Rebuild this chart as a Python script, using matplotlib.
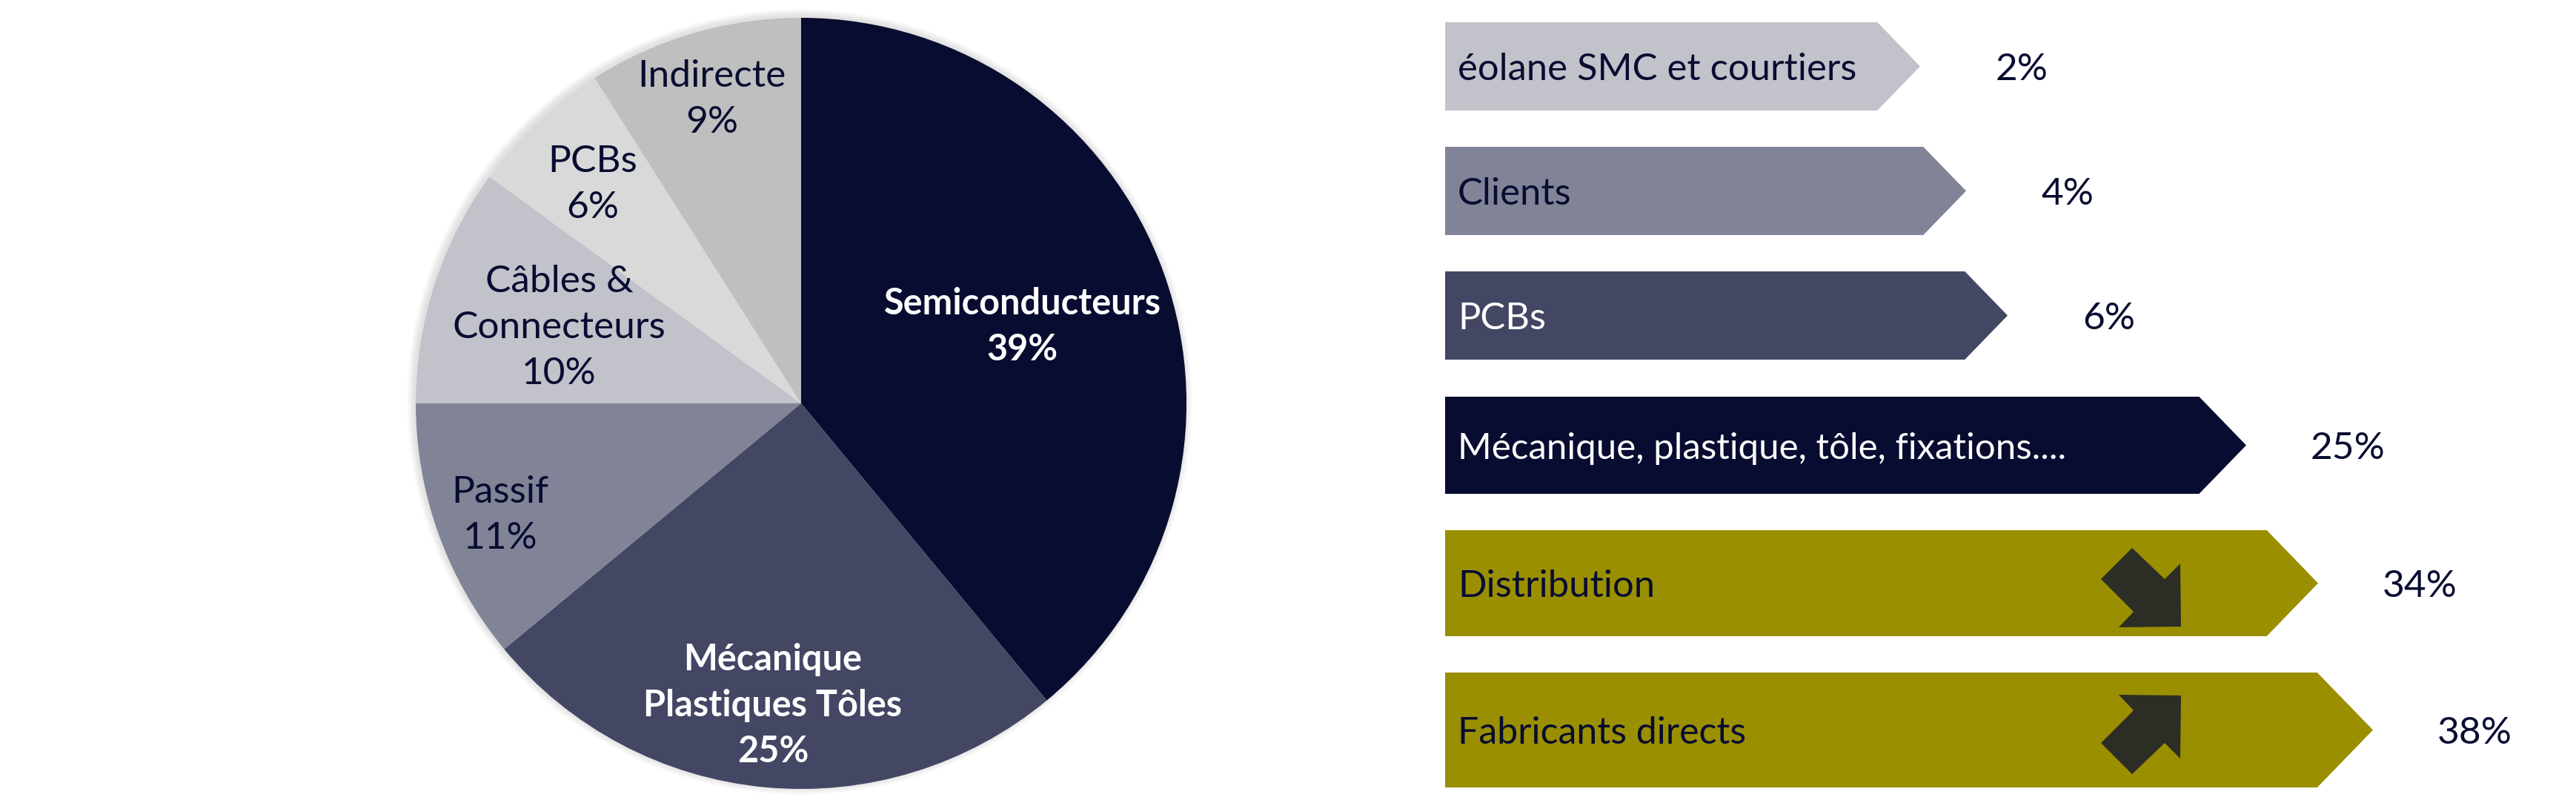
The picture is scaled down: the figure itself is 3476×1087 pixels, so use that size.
import numpy as np
import matplotlib
matplotlib.use("Agg")
import matplotlib.pyplot as plt
from matplotlib.patches import Polygon, Circle

# ---------------- data ----------------
pie_labels = ["Semiconducteurs", "Mécanique\nPlastiques Tôles", "Passif",
              "Câbles &\nConnecteurs", "PCBs", "Indirecte"]
pie_values = [39, 25, 11, 10, 6, 9]

arrow_labels = ["éolane SMC et courtiers", "Clients", "PCBs",
                "Mécanique, plastique, tôle, fixations....",
                "Distribution", "Fabricants directs"]
arrow_values = [2, 4, 6, 25, 34, 38]
# visual length of each arrow as drawn in the picture
arrow_extent = [641, 703, 759, 1081, 1178, 1252]
arrow_trend = [None, None, None, None, "down", "up"]

# ---------------- style ----------------
W, H = 3476, 1087
DPI = 100
plt.rcParams["font.family"] = ["Lato", "DejaVu Sans"]
NAVY = "#080C30"
pie_colors = ["#080C30", "#434764", "#818497", "#C2C2CB", "#D9D9D9", "#BFBFBF"]
pie_text_colors = ["white", "white", NAVY, NAVY, NAVY, NAVY]
pie_text_weight = ["bold", "bold", "normal", "normal", "normal", "normal"]
pie_text_size = [35, 35, 37, 37, 37, 37]
pie_label_frac = [0.61, 0.78, 0.83, 0.66, 0.79, 0.83]
arrow_colors = ["#C2C2CB", "#818497", "#434764", "#080C30", "#9A8F00", "#9A8F00"]
arrow_text_colors = [NAVY, NAVY, "white", "white", NAVY, NAVY]
arrow_text_size = [36.5, 36.5, 36.5, 35.5, 36.5, 36]
row_center = [89.5, 257.5, 425.5, 600.5, 786.5, 984.5]   # from top, px
row_height = [119, 119, 119, 131, 143, 155]
ICON = "#2C2D24"
FS = 37
FS_PX = FS * DPI / 72.0

fig = plt.figure(figsize=(W / DPI, H / DPI), dpi=DPI)
fig.patch.set_facecolor("white")
ax = fig.add_axes([0, 0, 1, 1])

# ---------------- pie ----------------
cx, cy, R = 1081, H - 544, 520
# soft shadow
for k in range(10, 0, -1):
    ax.add_patch(Circle((cx - 2, cy + 2), R + k, color="#808080",
                        alpha=0.018, lw=0, zorder=0))
wedges, _ = ax.pie(pie_values, colors=pie_colors, startangle=90,
                   counterclock=False, center=(cx, cy), radius=R,
                   wedgeprops=dict(linewidth=0))
for w in wedges:
    w.set_zorder(1)

line_pitch = 62
for w, lab, val, frac, col, wt, fs in zip(wedges, pie_labels, pie_values,
                                          pie_label_frac, pie_text_colors,
                                          pie_text_weight, pie_text_size):
    mid = np.deg2rad((w.theta1 + w.theta2) / 2.0)
    ax_x = cx + frac * R * np.cos(mid)
    ax_y = cy + frac * R * np.sin(mid)
    lines = lab.split("\n") + [f"{val}%"]
    n = len(lines)
    for i, t in enumerate(lines):
        yy = ax_y + ((n - 1) / 2.0 - i) * line_pitch
        ax.text(ax_x, yy, t, ha="center", va="center_baseline",
                fontsize=fs, color=col, fontweight=wt, zorder=3)

# ---------------- arrows ----------------
x0 = 1950
icon_shape = np.array([(-12, -53.5), (32, -11.5), (53, -32.5), (54, 52.5),
                       (-30, 53.5), (-10, 32.5), (-54, -11.5)])
for lab, val, ext, col, tcol, tfs, rc, h, trend in zip(
        arrow_labels, arrow_values, arrow_extent, arrow_colors,
        arrow_text_colors, arrow_text_size, row_center, row_height,
        arrow_trend):
    yc = H - rc
    tip = x0 + ext
    tl = 0.485 * h
    pts = [(x0, yc - h / 2), (tip - tl, yc - h / 2), (tip, yc),
           (tip - tl, yc + h / 2), (x0, yc + h / 2)]
    ax.add_patch(Polygon(pts, closed=True, facecolor=col, edgecolor="none",
                         zorder=1))
    ax.text(x0 + 17, yc - 0.36 * FS_PX, lab, ha="left", va="baseline",
            fontsize=tfs, color=tcol, zorder=3)
    ax.text(tip + 137, yc - 0.36 * FS_PX, f"{val}%", ha="center",
            va="baseline", fontsize=FS, color=NAVY, zorder=3)
    if trend is not None:
        icx, icy = x0 + 939, yc - 6
        if trend == "down":
            shp = np.column_stack([icx + icon_shape[:, 0], icy - icon_shape[:, 1]])
        else:
            shp = np.column_stack([icx + icon_shape[:, 0], icy + icon_shape[:, 1]])
        ax.add_patch(Polygon(shp, closed=True, facecolor=ICON,
                             edgecolor="none", zorder=2))

ax.set_xlim(0, W)
ax.set_ylim(0, H)
ax.set_aspect("auto")
ax.axis("off")
fig.savefig("out.png", dpi=DPI, facecolor="white")
